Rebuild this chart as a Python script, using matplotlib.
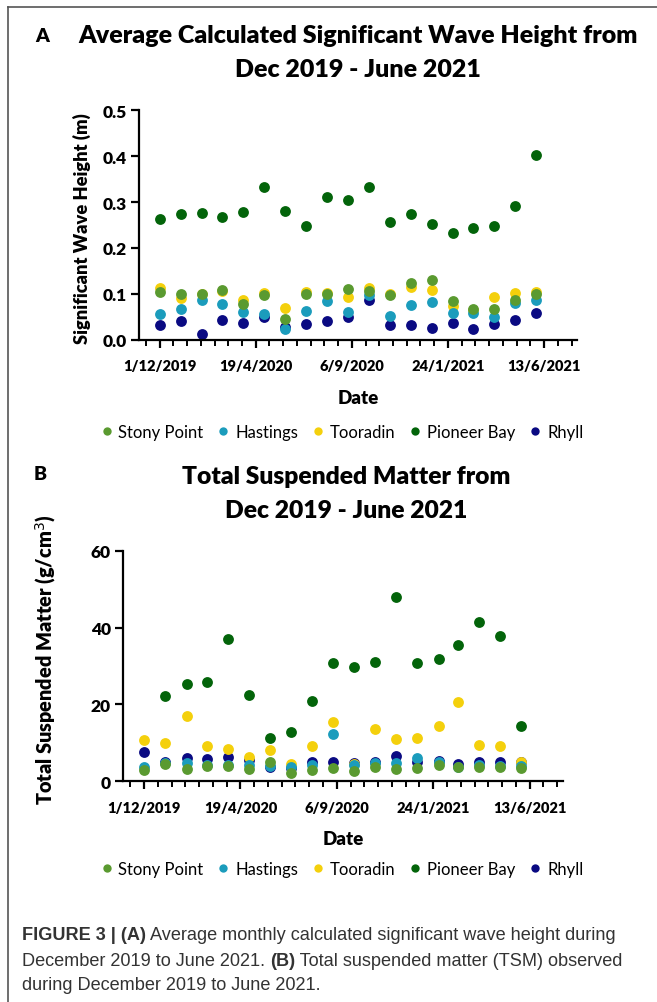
import numpy as np
import pandas as pd
import matplotlib
matplotlib.use('Agg')
import matplotlib.pyplot as plt
from matplotlib.lines import Line2D

months = ['2019-12-01', '2020-01-01', '2020-02-01', '2020-03-01', '2020-04-01',
          '2020-05-01', '2020-06-01', '2020-07-01', '2020-08-01', '2020-09-01',
          '2020-10-01', '2020-11-01', '2020-12-01', '2021-01-01', '2021-02-01',
          '2021-03-01', '2021-04-01', '2021-05-01', '2021-06-01']
dates = pd.to_datetime(months)

sites = ['Stony Point', 'Hastings', 'Tooradin', 'Pioneer Bay', 'Rhyll']
colors = ['#5a9a30', '#1b9cbc', '#f4d00c', '#03640a', '#0a0a82']

# significant wave height (m)
wave_stony = [0.104, 0.099, 0.100, 0.108, 0.079, 0.098, 0.046, 0.101, 0.101, 0.110,
              0.107, 0.097, 0.125, 0.130, 0.085, 0.067, 0.068, 0.088, 0.101]
wave_hastings = [0.056, 0.067, 0.087, 0.078, 0.060, 0.057, 0.025, 0.062, 0.084, 0.060,
                 0.097, 0.052, 0.076, 0.083, 0.059, 0.059, 0.051, 0.080, 0.088]
wave_tooradin = [0.112, 0.091, 0.100, 0.107, 0.088, 0.103, 0.070, 0.104, 0.103, 0.093,
                 0.112, 0.099, 0.116, 0.109, 0.075, 0.066, 0.093, 0.102, 0.104]
wave_pioneer = [0.264, 0.274, 0.277, 0.267, 0.278, 0.333, 0.281, 0.247, 0.311, 0.304,
                0.332, 0.256, 0.275, 0.253, 0.232, 0.244, 0.248, 0.291, 0.402]
wave_rhyll = [0.033, 0.041, 0.013, 0.043, 0.036, 0.051, 0.028, 0.035, 0.042, 0.051,
              0.088, 0.033, 0.032, 0.027, 0.038, 0.023, 0.034, 0.043, 0.059]

# total suspended matter (g/cm3)
tsm_stony = [3.0, 4.5, 3.3, 3.9, 4.0, 3.2, 4.9, 2.1, 3.0, 3.4,
             2.8, 3.6, 3.1, 3.5, 4.2, 3.8, 3.7, 3.7, 3.4]
tsm_hastings = [3.6, 4.8, 4.8, 4.2, 4.3, 4.3, 4.0, 3.6, 4.3, 12.3,
                4.2, 4.8, 4.8, 6.0, 5.0, 3.6, 4.2, 4.1, 4.1]
tsm_tooradin = [10.8, 10.0, 16.9, 9.1, 8.4, 6.3, 8.1, 4.5, 9.3, 15.4,
                4.5, 13.7, 11.0, 11.3, 14.3, 20.7, 9.4, 9.3, 5.1]
tsm_pioneer = [np.nan, 22.3, 25.2, 25.9, 36.9, 22.4, 11.3, 12.9, 20.8, 30.9,
               29.8, 31.0, 47.9, 30.8, 31.9, 35.4, 41.5, 37.9, 14.4]
tsm_rhyll = [7.5, 5.0, 6.1, 5.7, 6.2, 5.5, 3.6, 3.4, 4.9, 4.9,
             4.7, 5.0, 6.5, 4.9, 5.3, 4.5, 4.9, 4.9, 5.1]

wave = [wave_stony, wave_hastings, wave_tooradin, wave_pioneer, wave_rhyll]
tsm = [tsm_stony, tsm_hastings, tsm_tooradin, tsm_pioneer, tsm_rhyll]

font = 'Lato'
W, H = 657, 1003
fig = plt.figure(figsize=(W / 100, H / 100), dpi=100)
renderer = fig.canvas.get_renderer()


def fx(px):
    return px / W


def fy(py):
    return 1 - py / H


def fit(txt, target, horizontal=True):
    # scale the font so the text spans target pixels
    bb = txt.get_window_extent(renderer)
    size = bb.width if horizontal else bb.height
    txt.set_fontsize(txt.get_fontsize() * target / size)
    return txt.get_fontsize()


x_lo = pd.Timestamp('2019-11-01')
x_hi = pd.Timestamp('2021-07-31')
major = pd.date_range('2019-12-01', periods=5, freq='140D')
minor = pd.date_range('2019-11-11', '2021-07-31', freq='20D')
major_labels = [f'{d.day}/{d.month}/{d.year}' for d in major]


def style_axes(ax, ylim, yticks, yticklabels):
    for s in ['top', 'right']:
        ax.spines[s].set_visible(False)
    for s in ['left', 'bottom']:
        ax.spines[s].set_linewidth(1.6)
    ax.set_xlim(x_lo, x_hi)
    ax.set_ylim(*ylim)
    ax.set_xticks(major)
    ax.set_xticklabels(major_labels, fontfamily=font, fontweight='heavy', fontsize=10.5)
    ax.set_xticks(minor, minor=True)
    ax.set_yticks(yticks)
    ax.set_yticklabels(yticklabels, fontfamily=font, fontweight='heavy', fontsize=12.5)
    ax.tick_params(axis='both', which='major', length=6, width=1.6, direction='out')
    ax.tick_params(axis='x', which='minor', length=4, width=1.4, direction='out')
    ax.tick_params(axis='x', which='major', pad=8)
    ax.tick_params(axis='y', which='major', pad=3)
    ax.set_xlabel('Date', fontfamily=font, fontweight='heavy', fontsize=13.5, labelpad=12)


def draw_points(ax, series):
    # Rhyll first, Stony Point last on top
    for i in [4, 3, 2, 1, 0]:
        ax.plot(dates, series[i], linestyle='none', marker='o', markersize=7.8,
                color=colors[i], markeredgewidth=0, clip_on=False)


def add_legend(ycenter):
    handles = [Line2D([], [], linestyle='none', marker='o', markersize=6,
                      color=c, markeredgewidth=0) for c in colors]
    fig.legend(handles, sites, loc='center', bbox_to_anchor=(fx(340), fy(ycenter)),
               ncol=5, frameon=False, handletextpad=0.1, columnspacing=0.6,
               handlelength=1.2, prop={'family': font, 'size': 12})


def add_title(lines, xc, y1, y2, width):
    t1 = fig.text(fx(xc), fy(y1), lines[0], fontfamily=font, fontweight='heavy',
                  fontsize=17, ha='center', va='center')
    size = fit(t1, width)
    fig.text(fx(xc), fy(y2), lines[1], fontfamily=font, fontweight='heavy',
             fontsize=size, ha='center', va='center')


# Panel A
axA = fig.add_axes([fx(139), fy(341), fx(577 - 139), (341 - 111) / H])
draw_points(axA, wave)
style_axes(axA, (0, 0.5), [0, 0.1, 0.2, 0.3, 0.4, 0.5],
           ['0.0', '0.1', '0.2', '0.3', '0.4', '0.5'])
yl = fig.text(fx(82), fy(229), 'Significant Wave Height (m)', fontfamily=font,
              fontweight='heavy', fontsize=14, rotation=90, ha='center', va='center')
fit(yl, 230, horizontal=False)
fig.text(fx(42), fy(36), 'A', fontfamily=font, fontweight='heavy', fontsize=14,
         ha='center', va='center')
add_title(['Average Calculated Significant Wave Height from', 'Dec 2019 - June 2021'],
          358, 36, 70, 560)
add_legend(433)

# Panel B
axB = fig.add_axes([fx(123.3), fy(782.3), fx(562.7 - 123.3), (782.3 - 551.7) / H])
draw_points(axB, tsm)
style_axes(axB, (0, 60), [0, 20, 40, 60], ['0', '20', '40', '60'])
yl = fig.text(fx(46), fy(660), 'Total Suspended Matter (g/cm$^3$)', fontfamily=font,
              fontweight='heavy', fontsize=14, rotation=90, ha='center', va='center')
fit(yl, 292, horizontal=False)
fig.text(fx(40), fy(475), 'B', fontfamily=font, fontweight='heavy', fontsize=14,
         ha='center', va='center')
add_title(['Total Suspended Matter from', 'Dec 2019 - June 2021'], 346, 477, 511, 328)
add_legend(870)

# frame lines
fig.add_artist(Line2D([fx(8), 1], [fy(8), fy(8)], color='#555555', linewidth=1.2))
fig.add_artist(Line2D([fx(8), fx(8)], [fy(8), 0], color='#555555', linewidth=1.2))

# caption, laid out segment by segment
cap_font = ['Liberation Sans Narrow', 'Liberation Sans', 'DejaVu Sans']
cap_color = '#333333'
caption = [
    [('FIGURE 3 | (A)', 'bold'), (' Average monthly calculated significant wave height during', 'normal')],
    [('December 2019 to June 2021. ', 'normal'), ('(B)', 'bold'),
     (' Total suspended matter (TSM) observed', 'normal')],
    [('during December 2019 to June 2021.', 'normal')],
]
cap_y = [936, 961, 985]


def place_caption(size):
    made = []
    widths = []
    for segs, yy in zip(caption, cap_y):
        x = 22
        for s, wt in segs:
            t = fig.text(fx(x), fy(yy), s, fontfamily=cap_font, fontweight=wt,
                         fontsize=size, color=cap_color, va='center', ha='left')
            x += t.get_window_extent(renderer).width
            made.append(t)
        widths.append(x - 22)
    return made, widths


made, widths = place_caption(12)
for t in made:
    t.remove()
place_caption(12 * 595 / widths[0])

fig.savefig('out.png', dpi=100)
